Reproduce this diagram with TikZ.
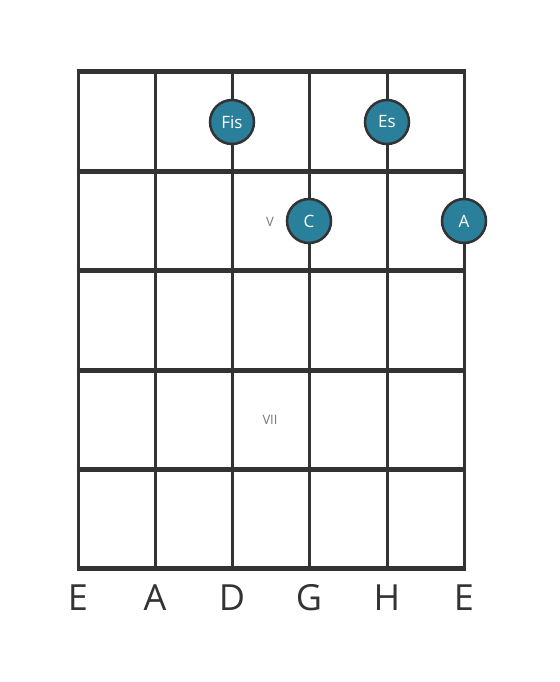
\documentclass[tikz,border=0pt]{standalone}
\usepackage{fontspec}
\setmainfont{Open Sans}
\definecolor{fretgray}{HTML}{333333}
\definecolor{notefill}{HTML}{2A7F9A}
\definecolor{markgray}{HTML}{777777}
\tikzset{
  note/.style={circle, draw=fretgray, line width=2.5pt, fill=notefill,
    minimum size=44pt, inner sep=0pt, text=white, font=\fontsize{17}{17}\selectfont},
  stringname/.style={text=fretgray, font=\fontsize{36}{36}\selectfont},
  posmark/.style={text=markgray, font=\fontsize{13}{13}\selectfont}
}
\begin{document}
\begin{tikzpicture}[x=1pt, y=-1pt]
            \useasboundingbox (0,0) rectangle (559,682);

            \draw[fretgray, line width=3pt] (78,72) -- (78,568);
            \draw[fretgray, line width=3pt] (155,72) -- (155,568);
            \draw[fretgray, line width=3pt] (232,72) -- (232,568);
            \draw[fretgray, line width=3pt] (309,72) -- (309,568);
            \draw[fretgray, line width=3pt] (387,72) -- (387,568);
            \draw[fretgray, line width=3pt] (464,72) -- (464,568);

            \draw[fretgray, line width=5pt] (76.5,72) -- (465.5,72);
            \draw[fretgray, line width=5pt] (76.5,171) -- (465.5,171);
            \draw[fretgray, line width=5pt] (76.5,270) -- (465.5,270);
            \draw[fretgray, line width=5pt] (76.5,370) -- (465.5,370);
            \draw[fretgray, line width=5pt] (76.5,469) -- (465.5,469);
            \draw[fretgray, line width=5pt] (76.5,568) -- (465.5,568);

            \node[posmark] (markV) at (270,222) {V};
            \node[posmark] (markVII) at (270,420) {VII};

            \node[note] (fis) at (232,122) {Fis};
            \node[note] (es) at (387,122) {Es};
            \node[note] (c) at (309,221) {C};
            \node[note] (a) at (464,221) {A};

            \node[stringname] (lowE) at (78,598) {E};
            \node[stringname] (strA) at (155,598) {A};
            \node[stringname] (strD) at (232,598) {D};
            \node[stringname] (strG) at (309,598) {G};
            \node[stringname] (strH) at (387,598) {H};
            \node[stringname] (highE) at (464,598) {E};
        \end{tikzpicture}
\end{document}
